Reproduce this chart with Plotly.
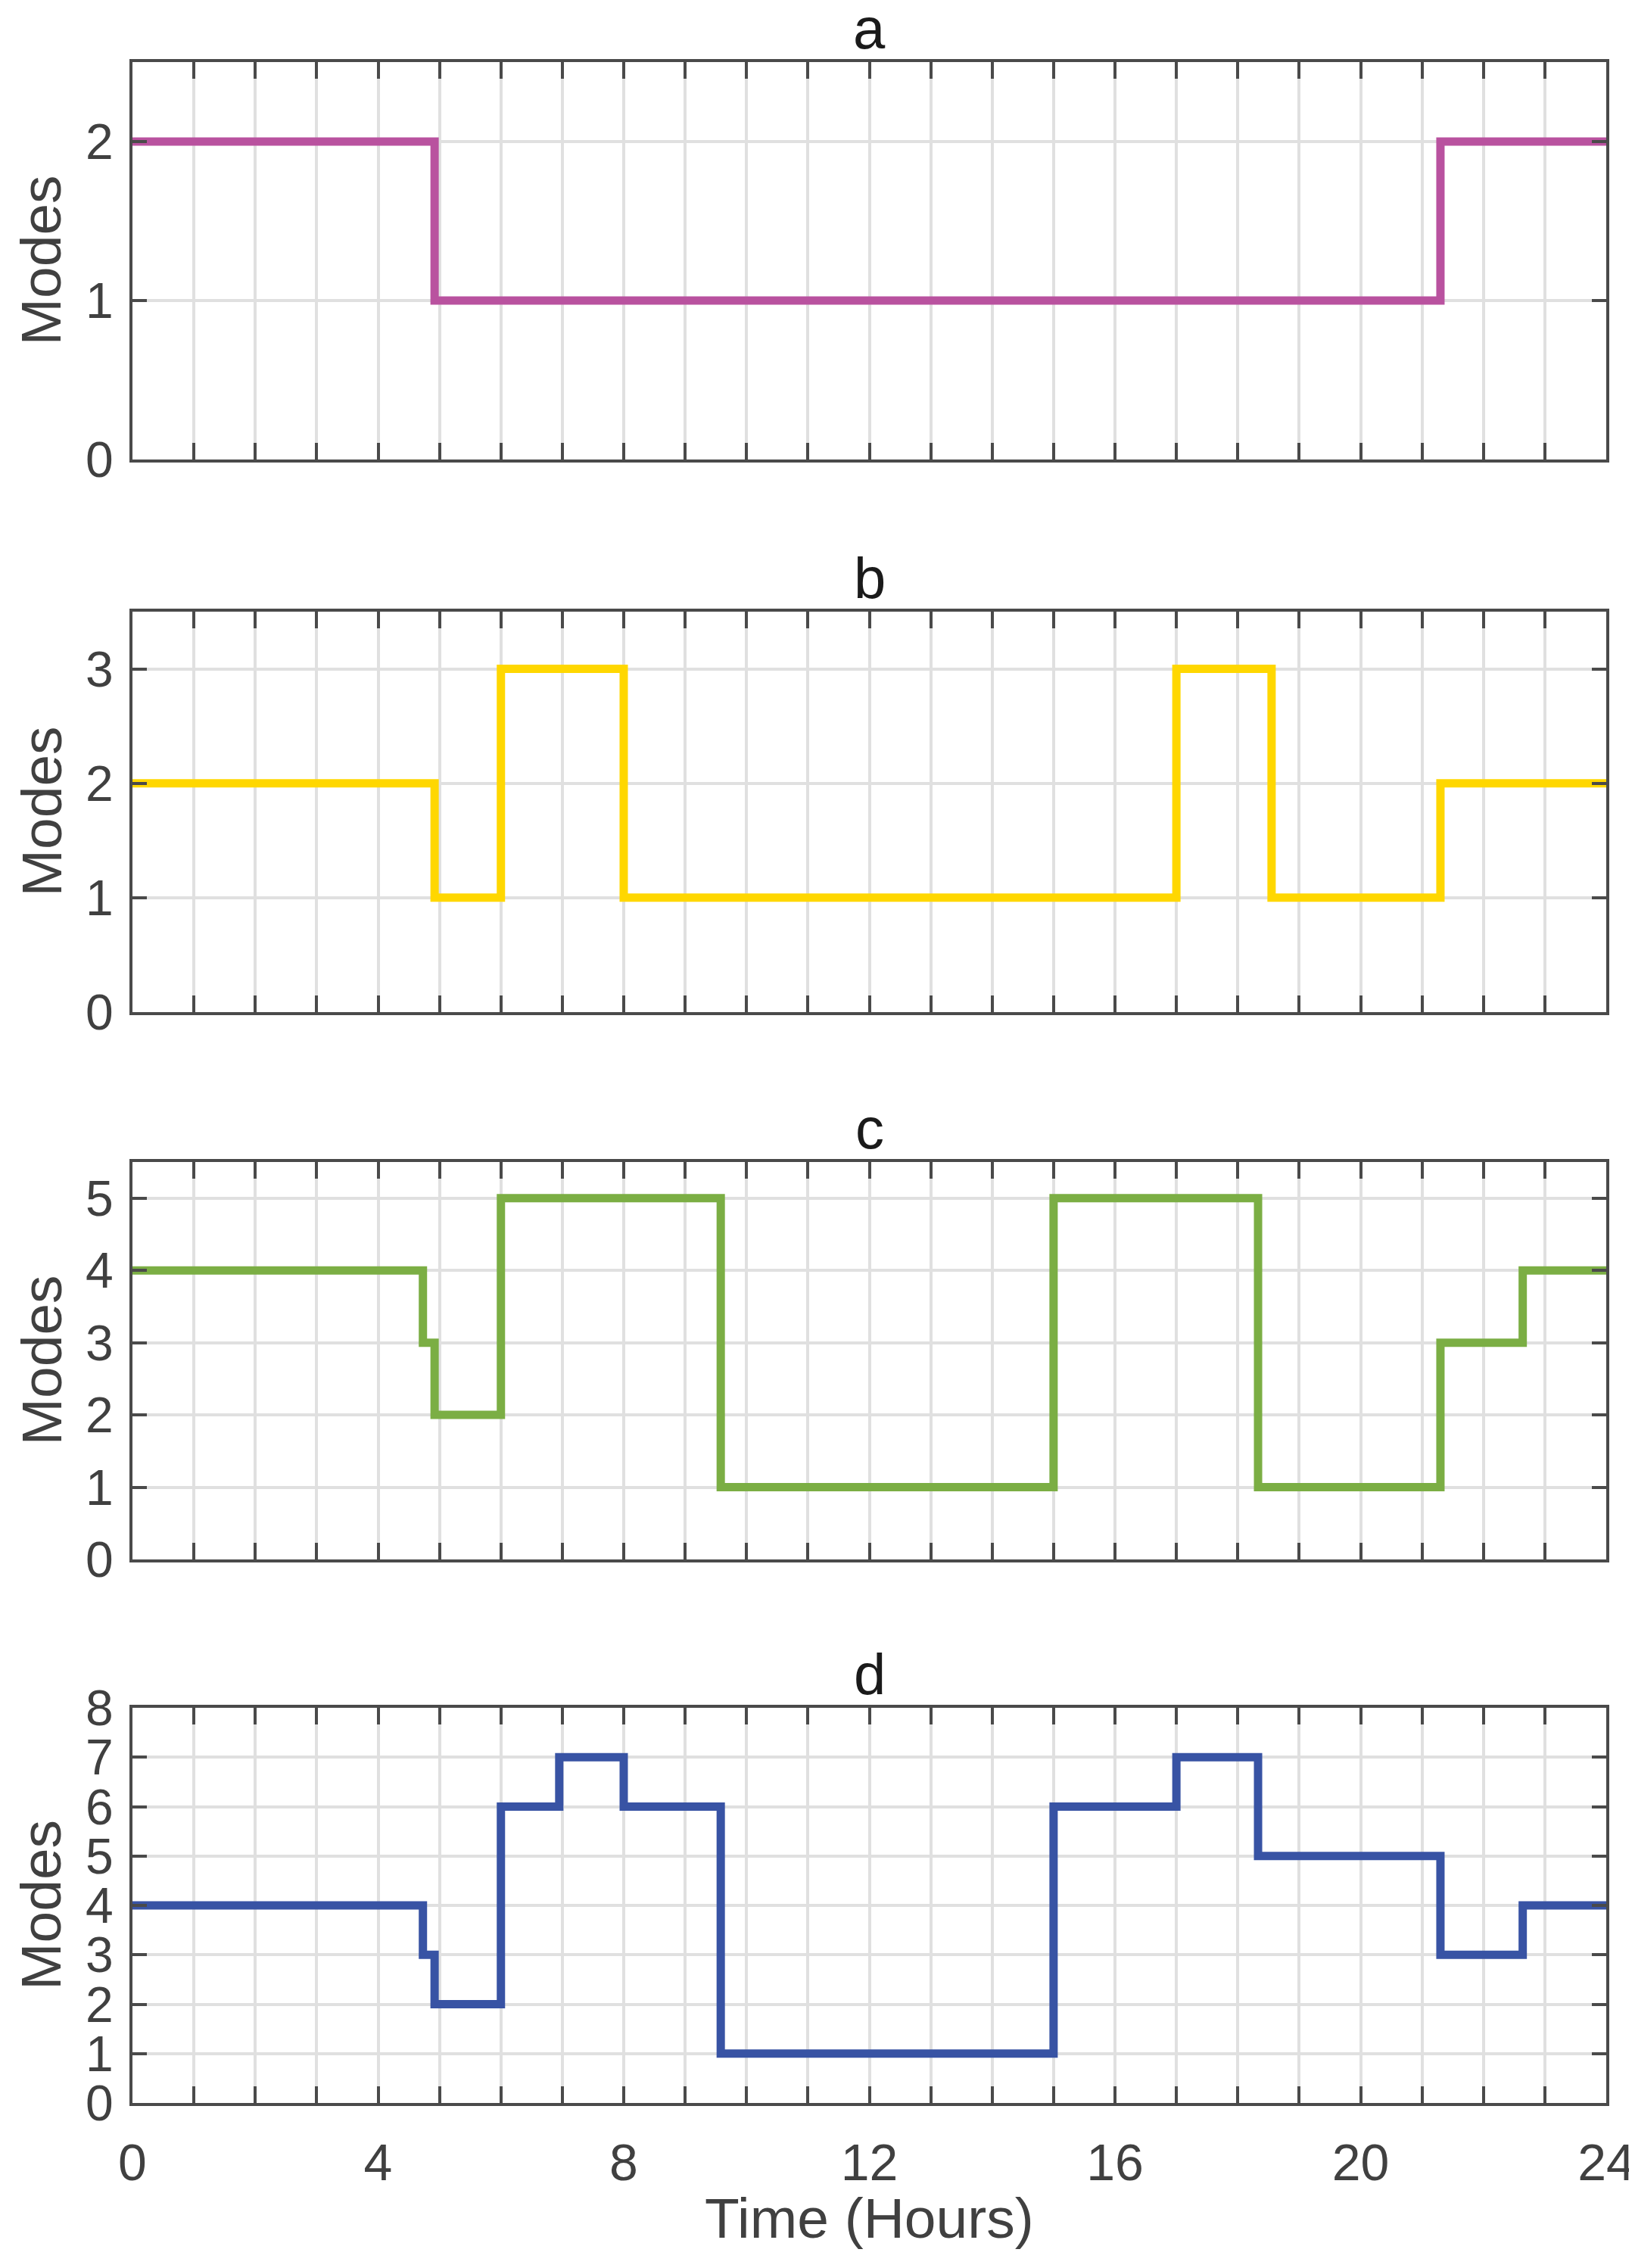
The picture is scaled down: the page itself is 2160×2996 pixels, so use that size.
import plotly.graph_objects as go

# ---- data (hours, mode) ----
panel_titles = ["a", "b", "c", "d"]
y_max = [2.5, 3.5, 5.5, 8]

t_a = [0, 4.92, 21.3, 24]
m_a = [2, 1, 2, 2]

t_b = [0, 4.92, 6.0, 8.0, 17.0, 18.55, 21.3, 24]
m_b = [2, 1, 3, 1, 3, 1, 2, 2]

t_c = [0, 4.73, 4.92, 6.0, 9.58, 15.0, 18.33, 21.3, 22.64, 24]
m_c = [4, 3, 2, 5, 1, 5, 1, 3, 4, 4]

t_d = [0, 4.73, 4.92, 6.0, 6.95, 8.0, 9.58, 15.0, 17.0, 18.33, 21.3, 22.64, 24]
m_d = [4, 3, 2, 6, 7, 6, 1, 6, 7, 5, 3, 4, 4]

x_tick_vals = [0, 4, 8, 12, 16, 20, 24]
x_tick_text = ["0", "4", "8", "12", "16", "20", "24"]

colors = ["#B9529F", "#FFD700", "#7BAE44", "#3853A4"]
series = [(t_a, m_a), (t_b, m_b), (t_c, m_c), (t_d, m_d)]

# ---- layout geometry (pixels) ----
W, H = 2160, 2996
x_left, x_right = 167, 2114
panel_px = [(74, 599), (800, 1329), (1527, 2052), (2248, 2770)]

AXC = "#4a4a4a"
GRIDC = "#e0e0e0"
FONT = "Liberation Sans, Arial, sans-serif"

fig = go.Figure()
annotations = []

for i, ((t, m), col) in enumerate(zip(series, colors)):
    n = "" if i == 0 else str(i + 1)
    fig.add_trace(go.Scatter(
        x=t, y=m, mode="lines", line=dict(color=col, width=11, shape="hv"),
        xaxis="x" + n, yaxis="y" + n, showlegend=False, hoverinfo="skip"))
    top, bot = panel_px[i]
    dom = [1 - bot / H, 1 - top / H]
    last = i == 3
    xa = dict(
        domain=[x_left / W, x_right / W], range=[0, 24],
        tickmode="array", tickvals=x_tick_vals, ticktext=x_tick_text,
        ticks="inside", ticklen=22, tickwidth=4, tickcolor=AXC,
        showline=True, linecolor=AXC, linewidth=4, mirror="ticks",
        showgrid=True, gridcolor=GRIDC, gridwidth=4,
        minor=dict(dtick=1, tick0=0, ticks="inside", ticklen=22, tickwidth=4,
                   tickcolor=AXC, showgrid=True, gridcolor=GRIDC, gridwidth=4),
        showticklabels=last, zeroline=False, fixedrange=True, automargin=False,
        tickfont=dict(family=FONT, size=68, color="#404040"),
        ticklabelstandoff=16,
        anchor="y" + n,
    )
    ya = dict(
        domain=dom, range=[0, y_max[i]], dtick=1, tick0=0,
        ticks="inside", ticklen=19, tickwidth=4, tickcolor=AXC,
        showline=True, linecolor=AXC, linewidth=4, mirror="ticks",
        showgrid=True, gridcolor=GRIDC, gridwidth=4, zeroline=False,
        automargin=False,
        tickfont=dict(family=FONT, size=66, color="#404040"),
        ticklabelstandoff=8,
        anchor="x" + n,
    )
    fig.layout["xaxis" + n] = xa
    fig.layout["yaxis" + n] = ya

    # panel title
    annotations.append(dict(
        text=panel_titles[i], xref="paper", yref="paper",
        x=(x_left + x_right) / 2 / W, y=1 - top / H, yanchor="bottom", xanchor="center",
        yshift=0, showarrow=False, font=dict(family=FONT, size=76, color="#1a1a1a")))
    # y-axis label
    annotations.append(dict(
        text="Modes", xref="paper", yref="paper", textangle=-90,
        x=46 / W, y=1 - (top + bot) / 2 / H, xanchor="center", yanchor="middle",
        showarrow=False, font=dict(family=FONT, size=75, color="#404040")))

annotations.append(dict(
    text="Time (Hours)", xref="paper", yref="paper",
    x=(x_left + x_right) / 2 / W, y=1 - 2922 / H, xanchor="center", yanchor="middle",
    showarrow=False, font=dict(family=FONT, size=75, color="#404040")))

fig.update_layout(
    width=W, height=H, margin=dict(l=0, r=0, t=0, b=0, autoexpand=False),
    paper_bgcolor="white", plot_bgcolor="white",
    annotations=annotations, showlegend=False,
)

fig.write_html("out.html")
